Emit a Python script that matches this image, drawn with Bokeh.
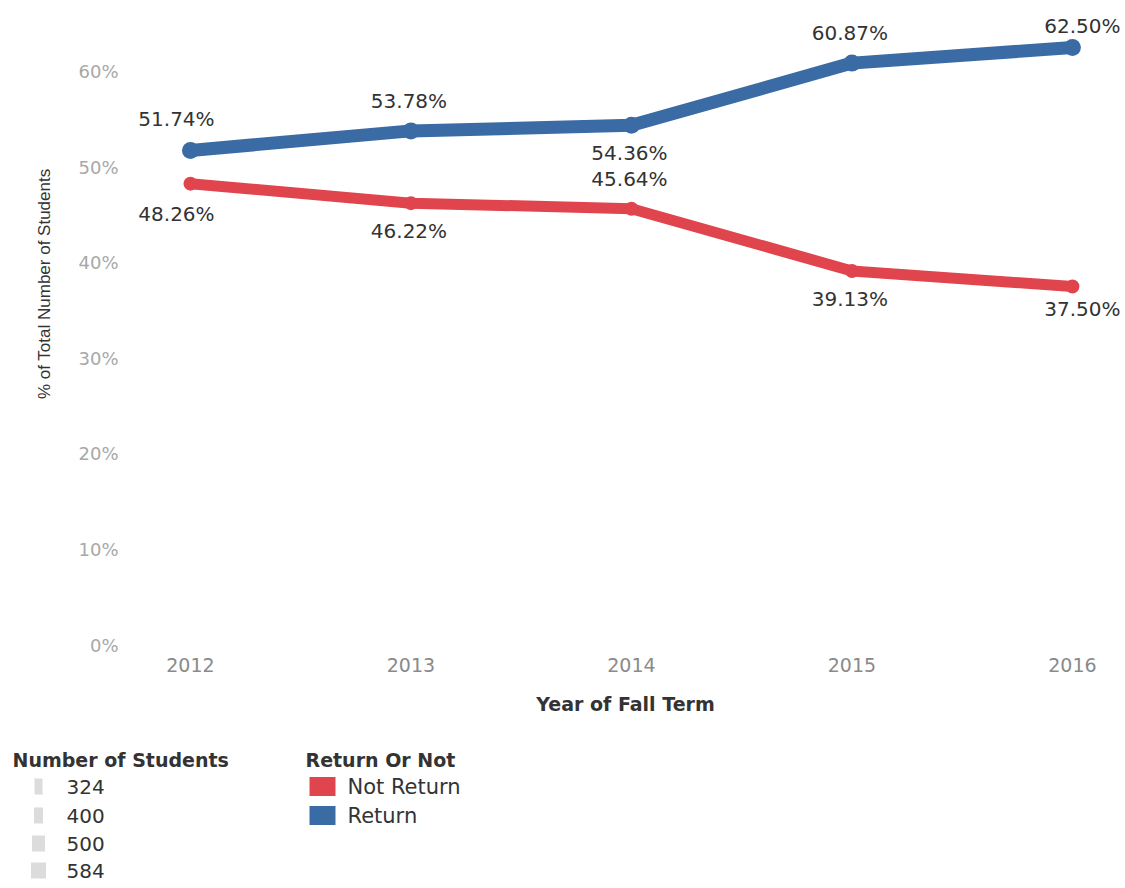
from bokeh.plotting import figure
from bokeh.models import (Range1d, FixedTicker, PrintfTickFormatter, ColumnDataSource, Title)
from bokeh.layouts import column
from bokeh.embed import file_html
from bokeh.resources import INLINE
from bokeh.core.properties import value

# ---- data ----
years = [2012, 2013, 2014, 2015, 2016]
return_pct = [51.74, 53.78, 54.36, 60.87, 62.50]
not_return_pct = [48.26, 46.22, 45.64, 39.13, 37.50]
return_label_side = ["above", "above", "below", "above", "above"]
not_return_label_side = ["below", "below", "above", "below", "below"]
y_ticks = [0, 10, 20, 30, 40, 50, 60]
size_legend_values = ["324", "400", "500", "584"]
color_legend_labels = ["Not Return", "Return"]

BLUE = "#3b6ba5"
RED = "#e0454e"
DARK = "#333333"
FONT = "DejaVu Sans"

W = 1120
MAIN_H = 726
LEG_H = 160
LEFT, BOTTOM_FRAME = 130, 652   # frame left edge / bottom edge (px)

p = figure(width=W, height=MAIN_H, output_backend="svg", toolbar_location=None,
           x_range=Range1d(2011.728, 2016.218), y_range=Range1d(-0.78, 67.42),
           min_border_left=LEFT, min_border_right=0, min_border_top=0,
           min_border_bottom=MAIN_H - BOTTOM_FRAME)
p.frame_align = False
p.xgrid.visible = False
p.ygrid.visible = False
p.outline_line_color = None

# axes
p.xaxis.ticker = FixedTicker(ticks=years)
p.yaxis.ticker = FixedTicker(ticks=y_ticks)
p.yaxis.formatter = PrintfTickFormatter(format="%d%%")
for ax in (p.xaxis, p.yaxis):
    ax.axis_line_color = None
    ax.major_tick_line_color = None
    ax.minor_tick_line_color = None
    ax.major_tick_out = 0
    ax.major_tick_in = 0
    ax.minor_tick_out = 0
    ax.major_label_text_font = FONT
p.xaxis.major_label_text_font_size = "19px"
p.xaxis.major_label_text_color = "#8a8a8a"
p.xaxis.major_label_standoff = 5
p.xaxis.axis_label = "Year of Fall Term"
p.xaxis.axis_label_text_font = FONT
p.xaxis.axis_label_text_font_style = "bold"
p.xaxis.axis_label_text_font_size = "19px"
p.xaxis.axis_label_text_color = DARK
p.xaxis.axis_label_standoff = 18

p.yaxis.major_label_text_font_size = "18px"
p.yaxis.major_label_text_color = "#a8a8a8"
p.yaxis.major_label_standoff = 12

# y axis title as a side-panel title (allows shifting along the axis)
p.add_layout(Title(text="% of Total Number of Students", align="right", offset=168,
                   standoff=44, text_font="Liberation Sans", text_font_size="17px",
                   text_font_style="normal", text_color=DARK), "left")


def offsets(sides, xs):
    xo, yo = [], []
    for s, x in zip(sides, xs):
        if x == xs[0]:
            xo.append(-14)
            yo.append(-31 if s == "above" else 30)
        elif x == xs[-1]:
            xo.append(10)
            yo.append(-22 if s == "above" else 22)
        else:
            xo.append(-2)
            yo.append(-30 if s == "above" else 28)
    return xo, yo


for vals, color, lw, dot, sides in [
    (not_return_pct, RED, 11, 14, not_return_label_side),
    (return_pct, BLUE, 13, 17, return_label_side),
]:
    xo, yo = offsets(sides, years)
    src = ColumnDataSource(dict(
        x=years, y=vals,
        txt=["%.2f%%" % v for v in vals],
        xo=xo, yo=yo,
    ))
    p.line("x", "y", source=src, line_color=color, line_width=lw,
           line_cap="round", line_join="round")
    p.scatter("x", "y", source=src, size=dot, fill_color=color, line_color=None)
    p.text("x", "y", text="txt", source=src, x_offset="xo", y_offset="yo",
           text_align="center", text_baseline="middle",
           text_font=value(FONT), text_font_size="20px", text_color=DARK)

# ---- legend panel (pixel-like coordinates, y grows downward) ----
leg = figure(width=W, height=LEG_H, output_backend="svg", toolbar_location=None,
             x_range=Range1d(0, W), y_range=Range1d(LEG_H, 0),
             x_axis_location=None, y_axis_location=None, min_border=0)
leg.frame_align = False
leg.xgrid.visible = False
leg.ygrid.visible = False
leg.outline_line_color = None

title_y = 759 - MAIN_H
row_y = [786 - MAIN_H, 815 - MAIN_H, 843 - MAIN_H, 870 - MAIN_H]

leg.text(x=[12], y=[title_y], text=["Number of Students"], text_font=value(FONT),
         text_font_style="bold", text_font_size="19px", text_color=DARK,
         text_baseline="middle", text_align="left")
swatch_w = [8, 9, 13, 15]
leg.rect(x=[38] * 4, y=row_y, width=swatch_w, height=[16] * 4,
         fill_color="#dcdcdc", line_color=None)
leg.text(x=[66] * 4, y=row_y, text=size_legend_values, text_font=value(FONT),
         text_font_size="20px", text_color=DARK, text_baseline="middle", text_align="left")

leg.text(x=[305], y=[title_y], text=["Return Or Not"], text_font=value(FONT),
         text_font_style="bold", text_font_size="19px", text_color=DARK,
         text_baseline="middle", text_align="left")
leg.rect(x=[322, 322], y=row_y[:2], width=[26, 26], height=[19, 19],
         fill_color=[RED, BLUE], line_color=None)
leg.text(x=[347, 347], y=row_y[:2], text=color_legend_labels, text_font=value(FONT),
         text_font_size="21px", text_color=DARK, text_baseline="middle", text_align="left")

layout = column(p, leg, spacing=0)
open("out.html", "w").write(file_html(layout, INLINE))
